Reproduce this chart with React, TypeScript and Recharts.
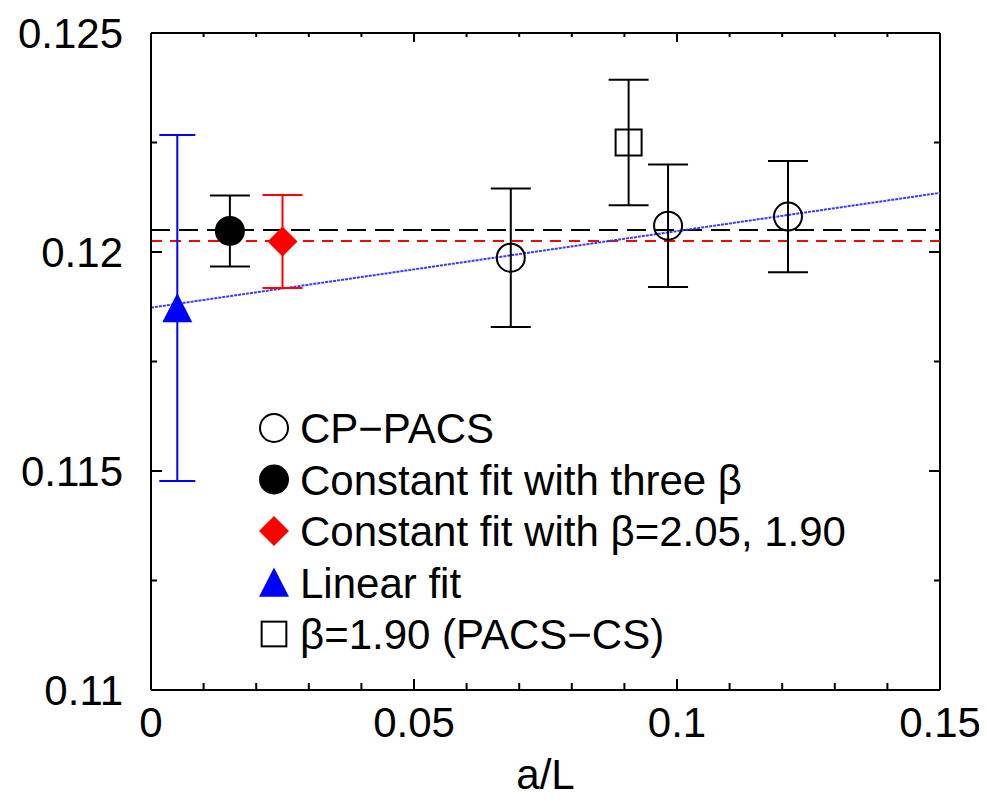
import { ComposedChart, Scatter, ErrorBar, XAxis, YAxis, ReferenceLine } from 'recharts';

// values
const cpPacs = [
  { x: 0.0684, y: 0.11987, err: 0.00158 },
  { x: 0.0983, y: 0.1206, err: 0.0014 },
  { x: 0.1211, y: 0.12081, err: 0.00127 },
];
const constFitThree = [{ x: 0.015, y: 0.12048, err: 0.00081 }];
const constFitTwo = [{ x: 0.025, y: 0.12024, err: 0.00106 }];
const linearFit = [{ x: 0.005, y: 0.11872, err: 0.00395 }];
const pacsCs = [{ x: 0.0908, y: 0.1225, err: 0.00143 }];

const fitLine = [
  { x: 0, y: 0.11873 },
  { x: 0.15, y: 0.12135 },
];
const constThreeLevel = 0.1205;
const constTwoLevel = 0.12025;

const xTicks = [0, 0.01, 0.02, 0.03, 0.04, 0.05, 0.06, 0.07, 0.08, 0.09, 0.1, 0.11, 0.12, 0.13, 0.14, 0.15];
const xMajor = [0, 0.05, 0.1, 0.15];
const xLabels = ['0', '0.05', '0.1', '0.15'];
const yTicks = [0.11, 0.1125, 0.115, 0.1175, 0.12, 0.1225, 0.125];
const yMajor = [0.11, 0.115, 0.12, 0.125];
const yLabels = ['0.11', '0.115', '0.12', '0.125'];
const xTitle = 'a/L';

const legendItems = [
  { name: 'CP\u2212PACS', mark: 'open' },
  { name: 'Constant fit with three \u03b2', mark: 'dot' },
  { name: 'Constant fit with \u03b2=2.05, 1.90', mark: 'diamond' },
  { name: 'Linear fit', mark: 'triangle' },
  { name: '\u03b2=1.90 (PACS\u2212CS)', mark: 'square' },
];

const W = 987;
const H = 798;
const PLOT_TOP = 33;
const PLOT_RIGHT = 940;
const FONT = '"Liberation Sans", Arial, Helvetica, sans-serif';
const FS = 42;

const majorIndex = (list: number[], v: number) => list.findIndex((m) => Math.abs(m - v) < 1e-9);

const BottomTick = (props: any) => {
  const { x, y, payload } = props;
  const i = majorIndex(xMajor, payload.value);
  const len = i >= 0 ? 11 : 7;
  const topLen = i >= 0 ? 9 : 4;
  return (
    <g>
      <line x1={x} y1={y} x2={x} y2={y - len} stroke="#000" strokeWidth={2} />
      <line x1={x} y1={PLOT_TOP} x2={x} y2={PLOT_TOP + topLen} stroke="#000" strokeWidth={2} />
      {i >= 0 && (
        <text x={x} y={y + 47} textAnchor="middle" fontSize={FS} fontFamily={FONT} fill="#000">
          {xLabels[i]}
        </text>
      )}
    </g>
  );
};

const LeftTick = (props: any) => {
  const { x, y, payload } = props;
  const i = majorIndex(yMajor, payload.value);
  const len = i >= 0 ? 11 : 6;
  return (
    <g>
      <line x1={x} y1={y} x2={x + len} y2={y} stroke="#000" strokeWidth={2} />
      <line x1={PLOT_RIGHT} y1={y} x2={PLOT_RIGHT - len} y2={y} stroke="#000" strokeWidth={2} />
      {i >= 0 && (
        <text x={x - 28} y={y + 15} textAnchor="end" fontSize={FS} fontFamily={FONT} fill="#000">
          {yLabels[i]}
        </text>
      )}
    </g>
  );
};

const XTitle = (props: any) => {
  const vb = props.viewBox || {};
  const cx = (vb.x ?? 0) + (vb.width ?? 0) / 2;
  return (
    <text x={cx} y={H - 9} textAnchor="middle" fontSize={FS} fontFamily={FONT} fill="#000">
      {xTitle}
    </text>
  );
};

const Marker = ({ mark, cx, cy, s = 1 }: { mark: string; cx: number; cy: number; s?: number }) => {
  if (mark === 'open')
    return <circle cx={cx} cy={cy} r={14 * s} fill="none" stroke="#000" strokeWidth={2} />;
  if (mark === 'dot') return <circle cx={cx} cy={cy} r={15 * s} fill="#000" />;
  if (mark === 'diamond') {
    const r = 15 * s;
    return <polygon points={`${cx},${cy - r} ${cx + r},${cy} ${cx},${cy + r} ${cx - r},${cy}`} fill="#ff0000" />;
  }
  if (mark === 'triangle') {
    const r = 15 * s;
    return <polygon points={`${cx},${cy - r} ${cx + r},${cy + r * 0.95} ${cx - r},${cy + r * 0.95}`} fill="#0000ff" />;
  }
  const h = 13 * s;
  return <rect x={cx - h} y={cy - h} width={2 * h} height={2 * h} fill="none" stroke="#000" strokeWidth={2} />;
};

const shapeFor = (mark: string) => (p: any) => <Marker mark={mark} cx={p.cx} cy={p.cy} />;

const Legend = () => (
  <svg width={W} height={H} style={{ position: 'absolute', left: 0, top: 0, pointerEvents: 'none' }}>
    {legendItems.map((it, k) => {
      const cy = 428 + k * 51.5;
      return (
        <g key={it.name}>
          <Marker mark={it.mark} cx={274} cy={cy} s={it.mark === 'square' ? 0.95 : 1} />
          <text x={300} y={cy + 15} fontSize={FS} fontFamily={FONT} fill="#000">
            {it.name}
          </text>
        </g>
      );
    })}
  </svg>
);

export default function App() {
  return (
    <div style={{ position: 'relative', width: W, height: H, margin: -8, background: '#fff' }}>
      <ComposedChart width={W} height={H} margin={{ top: PLOT_TOP, right: W - PLOT_RIGHT, bottom: 0, left: 0 }}>
        <XAxis
          type="number"
          dataKey="x"
          domain={[0, 0.15]}
          ticks={xTicks}
          interval={0}
          allowDataOverflow
          height={108}
          tickSize={0}
          tickMargin={0}
          tickLine={false}
          axisLine={{ stroke: '#000', strokeWidth: 2 }}
          tick={<BottomTick />}
          label={<XTitle />}
        />
        <YAxis
          type="number"
          dataKey="y"
          domain={[0.11, 0.125]}
          ticks={yTicks}
          interval={0}
          allowDataOverflow
          width={151}
          tickSize={0}
          tickMargin={0}
          tickLine={false}
          axisLine={{ stroke: '#000', strokeWidth: 2 }}
          tick={<LeftTick />}
        />
        <ReferenceLine y={0.125} stroke="#000" strokeWidth={2} />
        <ReferenceLine x={0.15} stroke="#000" strokeWidth={2} />
        <ReferenceLine y={constThreeLevel} stroke="#000" strokeWidth={2} strokeDasharray="19 9" />
        <ReferenceLine y={constTwoLevel} stroke="#ff0000" strokeWidth={2} strokeDasharray="11 8" />
        <ReferenceLine
          segment={fitLine}
          stroke="#3a3aff"
          strokeWidth={2}
          strokeDasharray="3 1"
        />
        <Scatter data={cpPacs} shape={shapeFor('open')} isAnimationActive={false}>
          <ErrorBar dataKey="err" direction="y" width={20} stroke="#000" strokeWidth={2} isAnimationActive={false} />
        </Scatter>
        <Scatter data={pacsCs} shape={shapeFor('square')} isAnimationActive={false}>
          <ErrorBar dataKey="err" direction="y" width={20} stroke="#000" strokeWidth={2} isAnimationActive={false} />
        </Scatter>
        <Scatter data={constFitThree} shape={shapeFor('dot')} isAnimationActive={false}>
          <ErrorBar dataKey="err" direction="y" width={20} stroke="#000" strokeWidth={2} isAnimationActive={false} />
        </Scatter>
        <Scatter data={constFitTwo} shape={shapeFor('diamond')} isAnimationActive={false}>
          <ErrorBar dataKey="err" direction="y" width={20} stroke="#ff0000" strokeWidth={2} isAnimationActive={false} />
        </Scatter>
        <Scatter data={linearFit} shape={shapeFor('triangle')} isAnimationActive={false}>
          <ErrorBar dataKey="err" direction="y" width={18} stroke="#0000ff" strokeWidth={2} isAnimationActive={false} />
        </Scatter>
      </ComposedChart>
      <Legend />
    </div>
  );
}
